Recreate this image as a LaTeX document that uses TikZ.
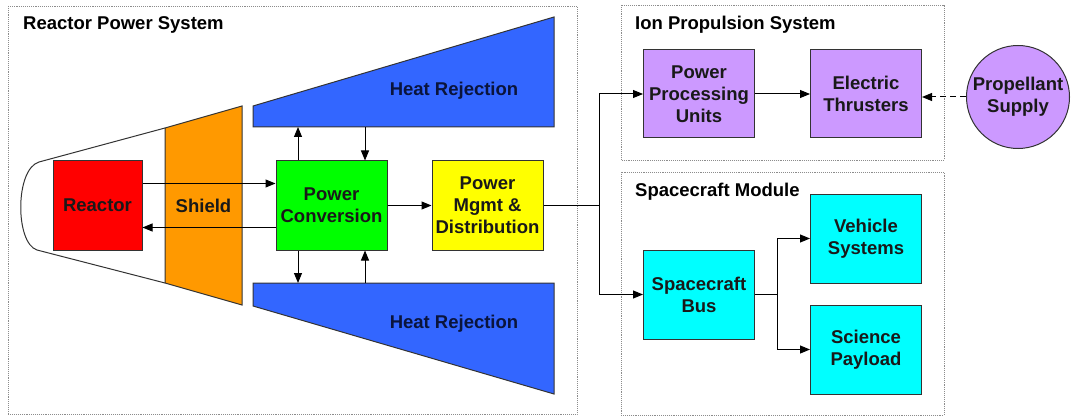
\documentclass[tikz,border=0pt]{standalone}
\usepackage{fontspec}
\setmainfont{Liberation Sans}
\usetikzlibrary{arrows.meta}
\definecolor{purp}{RGB}{204,153,255}
\definecolor{hrblue}{RGB}{51,102,255}
\definecolor{shorange}{RGB}{255,153,0}
\definecolor{cyanbox}{RGB}{0,255,255}
\definecolor{greenbox}{RGB}{0,255,0}
\definecolor{redbox}{RGB}{255,0,0}
\definecolor{yellowbox}{RGB}{255,255,0}
\definecolor{txt}{RGB}{25,25,25}
\definecolor{navytxt}{RGB}{10,20,60}
\begin{document}
\begin{tikzpicture}[x=1pt,y=-1pt,
  font=\fontsize{18.5}{22}\selectfont\bfseries,
  box/.style={draw=black!80, line width=1pt, minimum width=111pt, minimum height=89pt, align=center, inner sep=0pt, text=txt},
  frame/.style={draw=black!45, densely dotted, line width=0.9pt},
  arr/.style={-{Triangle[length=10pt,width=8pt]}, line width=1pt},
  ttl/.style={anchor=west, inner sep=0pt, text=black}]
\useasboundingbox (0,0) rectangle (1071,417);
% frames
\draw[frame] (8,6) rectangle (577,414);
\draw[frame] (621,5) rectangle (944,160);
\draw[frame] (621,172) rectangle (944,415);
\node[ttl] (t1) at (23,25) {Reactor Power System};
\node[ttl] (t2) at (635,25) {Ion Propulsion System};
\node[ttl] (t3) at (635,192) {Spacecraft Module};
% outline and shield
\draw[line width=1pt, draw=black!80] (165,128) -- (39,162) .. controls (15,169) and (15,243) .. (37,250) -- (165,283);
\draw[line width=1pt, draw=black!80, fill=shorange] (165,128) -- (242,106) -- (242,305) -- (165,283) -- cycle;
\node[text=txt] (shield) at (203.5,206) {Shield};
% heat rejection
\draw[line width=1pt, draw=black!80, fill=hrblue] (253,106) -- (554,17) -- (554,127) -- (253,127) -- cycle;
\draw[line width=1pt, draw=black!80, fill=hrblue] (253,283) -- (554,283) -- (554,394) -- (253,306) -- cycle;
\coordinate (hrt) at (400,127);
\coordinate (hrb) at (400,283);
\node[text=navytxt] (hr1) at (454,91) {Heat Rejection};
\node[text=navytxt] (hr2) at (454,324) {Heat Rejection};
% boxes
\node[box, fill=redbox, minimum width=89pt] (reactor) at (97.5,205.5) {Reactor};
\node[box, fill=greenbox] (pc) at (331.5,205.5) {Power\\Conversion};
\node[box, fill=yellowbox] (pmd) at (487.5,205.5) {Power\\Mgmt \&\\Distribution};
\node[box, fill=purp, minimum height=88pt] (ppu) at (699,94) {Power\\Processing\\Units};
\node[box, fill=purp, minimum height=88pt] (et) at (866,94) {Electric\\Thrusters};
\node[box, fill=cyanbox] (bus) at (699,294.5) {Spacecraft\\Bus};
\node[box, fill=cyanbox] (vs) at (866,238.5) {Vehicle\\Systems};
\node[box, fill=cyanbox] (sp) at (866,349.5) {Science\\Payload};
\node[circle, draw=black!80, line width=1pt, fill=purp, minimum size=103pt, inner sep=0pt, align=center, text=txt] (prop) at (1018,97) {Propellant\\Supply};
% arrows
\draw[arr] ([yshift=22pt]reactor.east) -- ([yshift=22pt]pc.west);
\draw[arr] ([yshift=-22pt]pc.west) -- ([yshift=-22pt]reactor.east);
\draw[arr] ([xshift=-33.5pt]pc.north) -- ([xshift=-33.5pt]pc.north |- hrt);
\draw[arr] ([xshift=33.5pt]pc.north |- hrt) -- ([xshift=33.5pt]pc.north);
\draw[arr] ([xshift=-33.5pt]pc.south) -- ([xshift=-33.5pt]pc.south |- hrb);
\draw[arr] ([xshift=33.5pt]pc.south |- hrb) -- ([xshift=33.5pt]pc.south);
\draw[arr] (pc.east) -- (pmd.west);
\coordinate (j1) at (599,205.5);
\draw[line width=1pt] (pmd.east) -- (j1);
\draw[arr] (j1) |- (ppu.west);
\draw[arr] (j1) |- (bus.west);
\draw[arr] (ppu.east) -- (et.west);
\draw[arr, dash pattern=on 6pt off 4pt] (prop.west) -- (prop.west -| et.east);
\coordinate (j2) at (777,294.5);
\draw[line width=1pt] (bus.east) -- (j2);
\draw[arr] (j2) |- (vs.west);
\draw[arr] (j2) |- (sp.west);
\end{tikzpicture}
\end{document}
